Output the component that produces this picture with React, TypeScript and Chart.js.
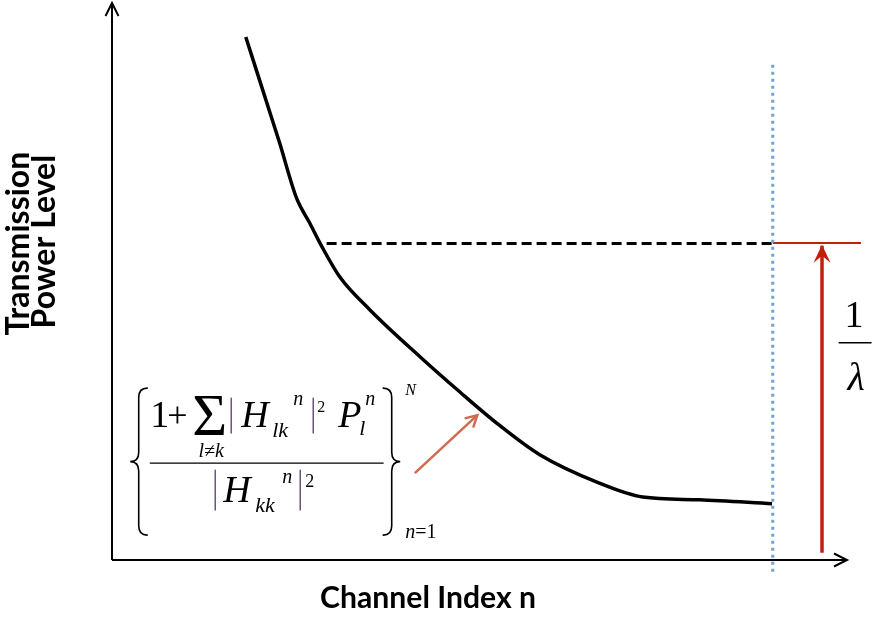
import React, { useEffect, useRef } from "react";
import { Chart, registerables } from "chart.js";

Chart.register(...registerables);

// ---- data (abstract units: x = channel index axis 0..100, y = power level 0..100) ----
const curveX = [18.2, 20.5, 22.8, 25.1, 26.9, 28.5, 31.0, 35.1, 41.9, 47.3, 52.7, 58.2, 66.3, 72.2, 79.9, 89.8];
const curveY = [93.9, 84.4, 74.9, 65.0, 60.5, 56.4, 50.8, 44.9, 36.5, 30.2, 24.2, 18.9, 13.8, 11.3, 10.8, 10.1];
const levelX = [29.2, 89.9];
const levelY = [56.8, 56.8];
const boundaryX = [89.9, 89.9];
const boundaryY = [88.9, -2.2];
const lambdaLineX = [89.9, 101.9];
const lambdaLineY = [56.9, 56.9];
const lambdaArrowX = [96.6, 96.6];
const lambdaArrowY = [1.3, 56.4];
const pointerX = [41.2, 49.7];
const pointerY = [15.6, 26.0];
const formulaAnchor = [5.2, 17.4];
const lambdaLabelAnchor = [101.1, 39.0];
const xTitle = "Channel Index n";
const yTitle = ["Transmission", "Power Level"];
const axisMin = 0;
const axisMax = 100;

const SERIF = '"Liberation Serif", "Times New Roman", serif';
const SANS = 'Lato, "Open Sans", sans-serif';

const pts = (xs: number[], ys: number[]) => xs.map((x, i) => ({ x, y: ys[i] }));

function txt(ctx: CanvasRenderingContext2D, s: string, x: number, y: number, size: number, italic = false, align: CanvasTextAlign = "left", color = "#000") {
  ctx.font = `${italic ? "italic " : ""}${size}px ${SERIF}`;
  ctx.fillStyle = color;
  ctx.textAlign = align;
  ctx.textBaseline = "alphabetic";
  ctx.fillText(s, x, y);
}

function vbar(ctx: CanvasRenderingContext2D, x: number, y1: number, y2: number) {
  ctx.save();
  ctx.strokeStyle = "#5e4777";
  ctx.lineWidth = 1.4;
  ctx.beginPath();
  ctx.moveTo(x, y1);
  ctx.lineTo(x, y2);
  ctx.stroke();
  ctx.restore();
}

function brace(ctx: CanvasRenderingContext2D, xTip: number, w: number, top: number, bottom: number, left: boolean) {
  const s = left ? 1 : -1;
  const xs = xTip + s * w * 0.5;
  const xe = xTip + s * w;
  const mid = (top + bottom) / 2;
  const r = w * 0.55;
  ctx.save();
  ctx.strokeStyle = "#000";
  ctx.lineWidth = 1.6;
  ctx.beginPath();
  ctx.moveTo(xe, top);
  ctx.quadraticCurveTo(xs, top, xs, top + r);
  ctx.lineTo(xs, mid - r);
  ctx.quadraticCurveTo(xs, mid, xTip, mid);
  ctx.quadraticCurveTo(xs, mid, xs, mid + r);
  ctx.lineTo(xs, bottom - r);
  ctx.quadraticCurveTo(xs, bottom, xe, bottom);
  ctx.stroke();
  ctx.restore();
}

function fitSize(ctx: CanvasRenderingContext2D, text: string, target: number) {
  ctx.font = `700 100px ${SANS}`;
  return (100 * target) / ctx.measureText(text).width;
}

const decorPlugin = {
  id: "decor",
  afterDatasetsDraw(chart: any) {
    const ctx: CanvasRenderingContext2D = chart.ctx;
    const { left, right, top, bottom } = chart.chartArea;
    const xs = chart.scales.x;
    const ys = chart.scales.y;
    const px = (v: number) => xs.getPixelForValue(v);
    const py = (v: number) => ys.getPixelForValue(v);
    ctx.save();

    // axes with open arrowheads
    ctx.strokeStyle = "#000";
    ctx.lineWidth = 2;
    ctx.lineCap = "butt";
    ctx.beginPath();
    ctx.moveTo(left, bottom);
    ctx.lineTo(left, top);
    ctx.moveTo(left, bottom);
    ctx.lineTo(right, bottom);
    ctx.stroke();
    ctx.beginPath();
    ctx.moveTo(left - 6.5, top + 13);
    ctx.lineTo(left, top);
    ctx.lineTo(left + 6.5, top + 13);
    ctx.moveTo(right - 13, bottom - 6.5);
    ctx.lineTo(right, bottom);
    ctx.lineTo(right - 13, bottom + 6.5);
    ctx.stroke();

    // red stealth arrowhead
    {
      const tx = px(lambdaArrowX[1]);
      const ty = py(lambdaArrowY[1]) - 1;
      ctx.fillStyle = "#c0210b";
      ctx.beginPath();
      ctx.moveTo(tx, ty);
      ctx.lineTo(tx + 8.5, ty + 18);
      ctx.lineTo(tx, ty + 11);
      ctx.lineTo(tx - 8.5, ty + 18);
      ctx.closePath();
      ctx.fill();
    }

    // pointer arrowhead (open)
    {
      const x0 = px(pointerX[0]);
      const y0 = py(pointerY[0]);
      const x1 = px(pointerX[1]);
      const y1 = py(pointerY[1]);
      const a = Math.atan2(y1 - y0, x1 - x0);
      const L = 12;
      ctx.strokeStyle = "#d06a50";
      ctx.lineWidth = 2.5;
      ctx.lineCap = "round";
      ctx.beginPath();
      ctx.moveTo(x1 - L * Math.cos(a - 0.5), y1 - L * Math.sin(a - 0.5));
      ctx.lineTo(x1, y1);
      ctx.lineTo(x1 - L * Math.cos(a + 0.5), y1 - L * Math.sin(a + 0.5));
      ctx.stroke();
    }

    // 1 / lambda label
    {
      const lx = px(lambdaLabelAnchor[0]);
      const ly = py(lambdaLabelAnchor[1]);
      txt(ctx, "1", lx - 1, ly - 16, 38, false, "center");
      ctx.strokeStyle = "#000";
      ctx.lineWidth = 1.3;
      ctx.beginPath();
      ctx.moveTo(lx - 16, ly);
      ctx.lineTo(lx + 16, ly);
      ctx.stroke();
      txt(ctx, "λ", lx + 1, ly + 47, 40, true, "center");
    }

    // formula
    {
      const ax = px(formulaAnchor[0]);
      const ay = py(formulaAnchor[1]);
      brace(ctx, ax - 20, 17, ay - 75, ay + 72, true);
      brace(ctx, ax + 250, 17, ay - 75, ay + 72, false);
      txt(ctx, "1", ax, ay - 36, 38);
      txt(ctx, "+", ax + 17, ay - 36, 36);
      txt(ctx, "Σ", ax + 42, ay - 28, 60);
      txt(ctx, "l≠k", ax + 61, ay - 6, 20, true, "center");
      vbar(ctx, ax + 81, ay - 65, ay - 30);
      txt(ctx, "H", ax + 91, ay - 36, 38, true);
      txt(ctx, "lk", ax + 122, ay - 26, 22, true);
      txt(ctx, "n", ax + 143, ay - 58, 20, true);
      vbar(ctx, ax + 163, ay - 65, ay - 30);
      txt(ctx, "2", ax + 167, ay - 51, 16);
      txt(ctx, "P", ax + 188, ay - 36, 38, true);
      txt(ctx, "n", ax + 215, ay - 58, 20, true);
      txt(ctx, "l", ax + 209, ay - 28, 22, true);
      ctx.strokeStyle = "#000";
      ctx.lineWidth = 1.2;
      ctx.beginPath();
      ctx.moveTo(ax, ay);
      ctx.lineTo(ax + 233, ay);
      ctx.stroke();
      vbar(ctx, ax + 65, ay + 7, ay + 47);
      txt(ctx, "H", ax + 73, ay + 39, 38, true);
      txt(ctx, "kk", ax + 105, ay + 49, 22, true);
      txt(ctx, "n", ax + 132, ay + 20, 20, true);
      vbar(ctx, ax + 150, ay + 7, ay + 47);
      txt(ctx, "2", ax + 155, ay + 24, 18);
      txt(ctx, "N", ax + 255, ay - 68, 16, true);
      txt(ctx, "n", ax + 255, ay + 75, 20, true);
      ctx.font = `20px ${SERIF}`;
      const nw = ctx.measureText("n").width;
      txt(ctx, "=1", ax + 255 + nw, ay + 75, 20);
    }

    // axis titles
    {
      const sx = fitSize(ctx, xTitle, 216);
      ctx.font = `700 ${sx}px ${SANS}`;
      ctx.fillStyle = "#000";
      ctx.textAlign = "center";
      ctx.textBaseline = "alphabetic";
      ctx.fillText(xTitle, px(43), bottom + 48);

      const sy = fitSize(ctx, yTitle[0], 184);
      ctx.font = `700 ${sy}px ${SANS}`;
      const cy = py(56.8);
      ctx.save();
      ctx.translate(left - 83, cy);
      ctx.rotate(-Math.PI / 2);
      ctx.fillText(yTitle[0], 0, 0);
      ctx.restore();
      ctx.save();
      ctx.translate(left - 57, cy - 2);
      ctx.rotate(-Math.PI / 2);
      ctx.fillText(yTitle[1], 0, 0);
      ctx.restore();
    }

    ctx.restore();
  },
};

export default function App() {
  const ref = useRef<HTMLCanvasElement>(null);
  useEffect(() => {
    if (!ref.current) return;
    const chart = new Chart(ref.current, {
      type: "scatter",
      data: {
        datasets: [
          {
            data: pts(boundaryX, boundaryY),
            showLine: true,
            borderColor: "#6fa1da",
            borderWidth: 3,
            borderDash: [3, 4],
            pointRadius: 0,
            clip: false,
          } as any,
          {
            data: pts(curveX, curveY),
            showLine: true,
            borderColor: "#000",
            borderWidth: 3.5,
            pointRadius: 0,
            cubicInterpolationMode: "monotone",
            clip: false,
          },
          {
            data: pts(levelX, levelY),
            showLine: true,
            borderColor: "#000",
            borderWidth: 3,
            borderDash: [10, 5],
            pointRadius: 0,
            clip: false,
          },
          {
            data: pts(lambdaLineX, lambdaLineY),
            showLine: true,
            borderColor: "#c0210b",
            borderWidth: 2,
            pointRadius: 0,
            clip: false,
          },
          {
            data: pts(lambdaArrowX, lambdaArrowY),
            showLine: true,
            borderColor: "#c0210b",
            borderWidth: 3.5,
            pointRadius: 0,
            clip: false,
          },
          {
            data: pts(pointerX, pointerY),
            showLine: true,
            borderColor: "#d06a50",
            borderWidth: 2.5,
            pointRadius: 0,
            clip: false,
          },
        ],
      },
      options: {
        responsive: false,
        animation: false,
        layout: { padding: { left: 112, right: 25, top: 3, bottom: 57 } },
        plugins: { legend: { display: false }, tooltip: { enabled: false } },
        scales: {
          x: { type: "linear", min: axisMin, max: axisMax, display: false },
          y: { type: "linear", min: axisMin, max: axisMax, display: false },
        },
      },
      plugins: [decorPlugin],
    });
    return () => chart.destroy();
  }, []);
  return (
    <div style={{ position: "absolute", left: 0, top: 0, width: 872, height: 617, background: "#fff" }}>
      <canvas ref={ref} width={872} height={617} style={{ width: 872, height: 617 }} />
    </div>
  );
}
